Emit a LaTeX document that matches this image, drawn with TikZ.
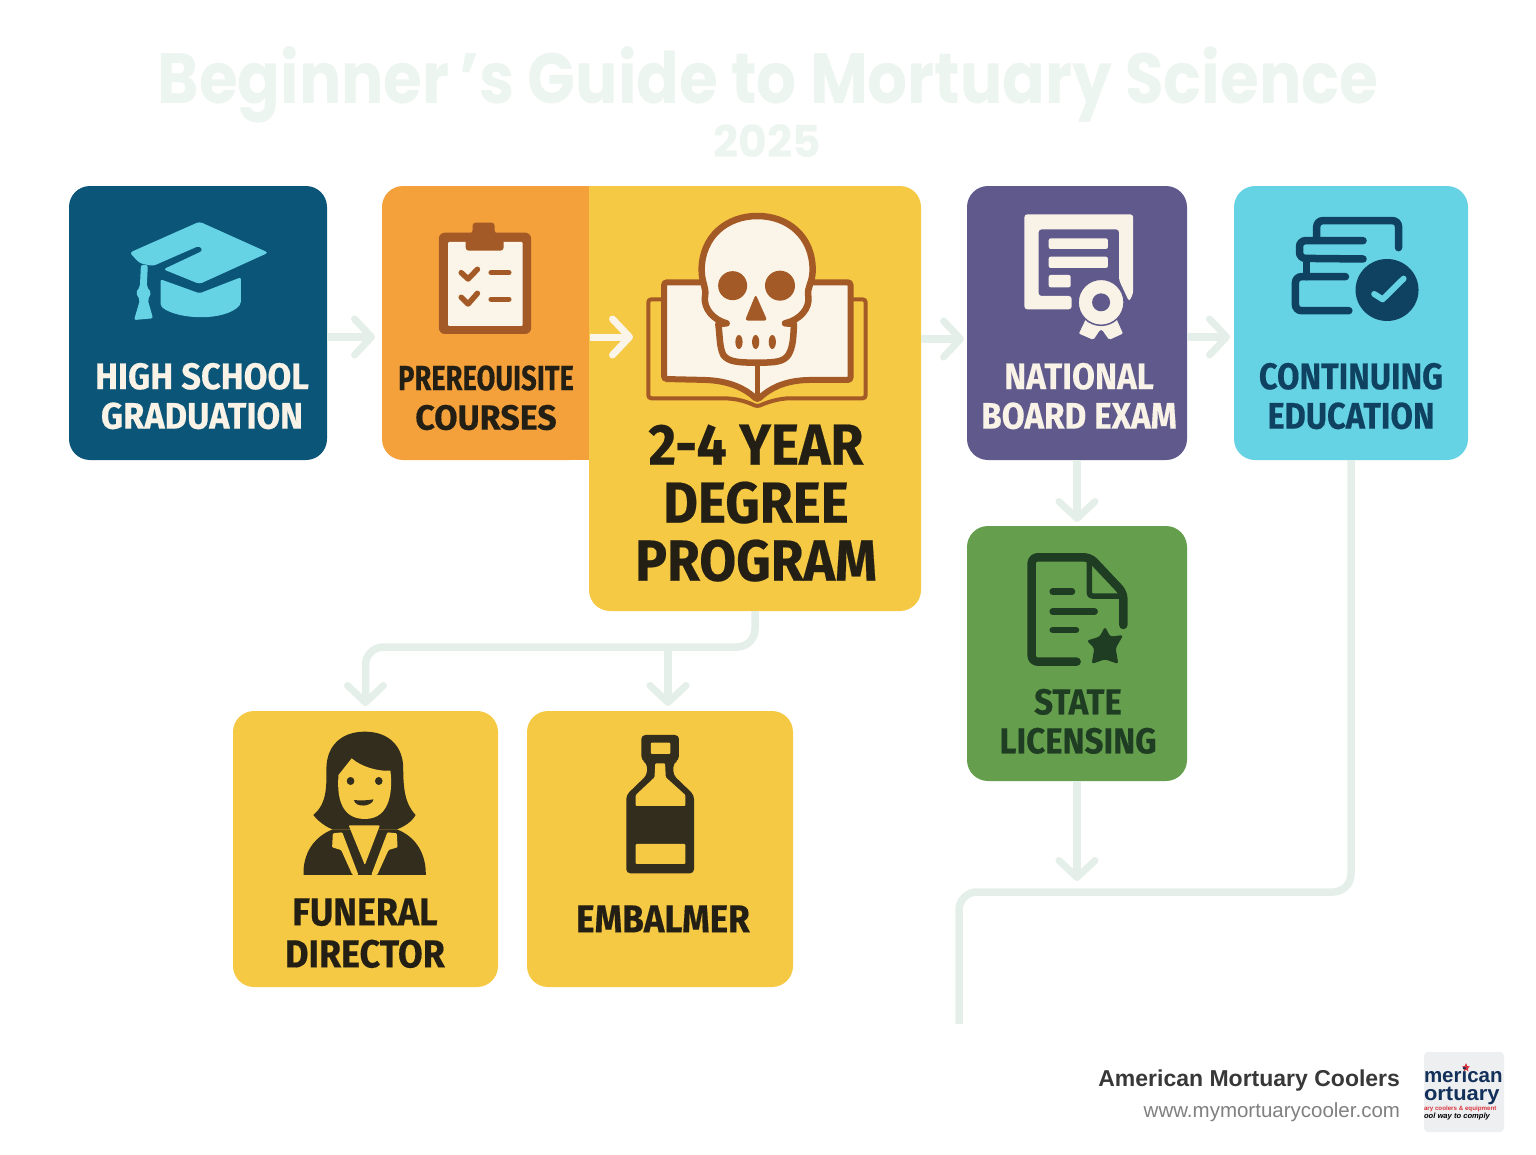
\documentclass[tikz,border=0pt]{standalone}
\usepackage{fontspec}
\usepackage{graphicx}
\usetikzlibrary{arrows.meta}
\setmainfont{Fira Sans}[BoldFeatures={FakeBold=0.35}]
\newfontfamily\titlefont{Poppins}
\newfontfamily\footfont{Liberation Sans}
\definecolor{navy}{HTML}{0B5578}
\definecolor{orangec}{HTML}{F4A13C}
\definecolor{yellowc}{HTML}{F5C944}
\definecolor{purplec}{HTML}{5F5A8B}
\definecolor{cyanc}{HTML}{66D3E4}
\definecolor{greenc}{HTML}{659F4E}
\definecolor{brownc}{HTML}{A45A26}
\definecolor{creamc}{HTML}{FBF4E8}
\definecolor{flowc}{HTML}{E5EFE9}
\definecolor{inkc}{HTML}{332D1E}
\definecolor{textink}{HTML}{241F14}
\definecolor{deepc}{HTML}{0F4160}
\definecolor{leafc}{HTML}{1F3D22}
\definecolor{paper}{HTML}{F8F3E6}
\definecolor{titlec}{HTML}{EDF5F0}
\definecolor{logobg}{HTML}{EEEFF0}
\definecolor{logonavy}{HTML}{12305A}
\definecolor{logored}{HTML}{D8343F}
\newcommand{\lbl}[4]{\scalebox{#1}[1]{\fontsize{#2}{#3}\selectfont\bfseries\begin{tabular}{@{}c@{}}#4\end{tabular}}}
\tikzset{
 card/.style={rectangle,rounded corners=21pt,inner sep=0pt,outer sep=0pt},
 txt/.style={inner sep=0pt,outer sep=0pt},
 flow/.style={draw=flowc,line width=7.5pt,rounded corners=18pt},
 flowtip/.style={flow,-{Straight Barb[length=17pt,width=36pt,line width=7pt,round]}},
 whitetip/.style={draw=creamc,line width=7pt,-{Straight Barb[length=17pt,width=36pt,line width=7pt,round]}},
 z1/.style={shift={(60,180)},x=0.3444pt,y=-0.3333pt},
 z2/.style={shift={(580,180)},x=0.3333pt,y=-0.3333pt},
 z3/.style={shift={(950,180)},x=0.338pt,y=-0.3333pt},
 z5/.style={shift={(220,620)},x=0.3762pt,y=-0.3333pt},
 z6/.style={shift={(950,520)},x=0.3333pt,y=-0.3333pt},
}
\begin{document}
\begin{tikzpicture}[x=1pt,y=-1pt]
\useasboundingbox (0,0) rectangle (1536,1154);
\fill[white] (0,0) rectangle (1536,1154);
% title
\node[txt,anchor=base,text=titlec,font=\titlefont\bfseries\fontsize{71}{71}\selectfont] (title) at (768,103) {\scalebox{.885}[1]{Beginner\,’s Guide to Mortuary Science}};
\node[txt,anchor=base,text=titlec,font=\titlefont\bfseries\fontsize{44}{44}\selectfont] (year) at (767,157) {2025};
% cards
\node[card,fill=navy,minimum width=258pt,minimum height=274pt] (hs) at (198,323) {};
\node[card,fill=orangec,minimum width=208pt,minimum height=274pt] (pre) at (486,323) {};
\fill[orangec] (560,186) rectangle (590,460);
\node[card,fill=purplec,minimum width=220pt,minimum height=274pt] (nat) at (1077,323) {};
\node[card,fill=cyanc,minimum width=234pt,minimum height=274pt] (cont) at (1351,323) {};
\node[card,fill=greenc,minimum width=220pt,minimum height=255pt] (state) at (1077,653.5) {};
\node[card,fill=yellowc,minimum width=265pt,minimum height=276pt] (fd) at (365.5,849) {};
\node[card,fill=yellowc,minimum width=266pt,minimum height=276pt] (emb) at (660,849) {};
\coordinate (rowa) at (0,337);
\coordinate (rowb) at (0,339);
\coordinate (pretip) at (633,337);
\coordinate (bus) at (668,647);
\coordinate (statetip) at (1077,881);
\coordinate (contend) at (959,1024);
% connectors
\draw[flowtip] (hs.east |- rowa) -- ([xshift=-7pt]pre.west |- rowa);
\draw[flowtip] (nat.east |- rowa) -- ([xshift=-4pt]cont.west |- rowa);
\draw[flowtip] (nat.south) -- ([yshift=4pt]state.north);
\draw[flowtip] (state.south) -- (statetip);
\draw[flow] (cont.south) -- ++(0,432) -| (contend);
% degree card
\node[card,fill=yellowc,minimum width=332pt,minimum height=425pt] (deg) at (755,398.5) {};
\fill[yellowc] (589,186) rectangle (620,220);
\draw[flowtip] (deg.east |- rowb) -- ([xshift=-3pt]nat.west |- rowb);
\draw[flowtip] (deg.south) -- ++(0,36) -| ([yshift=5pt]fd.north);
\draw[flowtip] (bus) -- ([yshift=5pt]bus |- emb.north);
\draw[whitetip] (pre.east |- rowa) -- (pretip);
% cap icon
\begin{scope}[z1]
\fill[cyanc,rounded corners=3pt] (405,125) -- (605,218) -- (405,312) -- (300,268) -- (415,212) -- (405,197) -- (270,258) -- (232,250) -- (202,218) -- cycle;
\fill[cyanc,rounded corners=2pt] (292,298) -- (405,340) -- (525,292) -- (525,372) .. controls (480,425) and (340,420) .. (292,378) -- cycle;
\fill[cyanc,rounded corners=2pt] (235,255) -- (255,255) -- (252,320) -- (265,338) -- (255,360) -- (270,415) -- (215,420) -- (232,360) -- (220,338) -- (232,320) -- cycle;
% clipboard
\fill[brownc,rounded corners=6pt] (1100,158) rectangle (1368,462);
\fill[creamc,rounded corners=1pt] (1127,186) rectangle (1343,438);
\fill[brownc,rounded corners=3pt] (1198,128) -- (1262,128) -- (1262,160) -- (1288,160) -- (1288,212) -- (1178,212) -- (1178,160) -- (1198,160) -- cycle;
\draw[brownc,line width=5.5pt,line cap=round,line join=round] (1165,278) -- (1185,297) -- (1212,268);
\draw[brownc,line width=5.5pt,line cap=round,line join=round] (1165,352) -- (1185,372) -- (1212,340);
\draw[brownc,line width=5.5pt,line cap=round] (1252,278) -- (1303,278);
\draw[brownc,line width=5.5pt,line cap=round] (1252,358) -- (1303,358);
\end{scope}
% book and skull icon
\begin{scope}[z2]
\draw[brownc,line width=4pt,rounded corners=3pt] (245,358) -- (205,358) -- (205,655) -- (420,655) .. controls (470,655) and (500,665) .. (532,680) .. controls (565,665) and (600,655) .. (640,655) -- (857,655) -- (857,358) -- (815,358);
\draw[brownc,fill=creamc,line width=6pt,rounded corners=3pt] (252,307) -- (812,307) -- (812,600) -- (680,600) .. controls (610,605) and (570,625) .. (532,660) .. controls (495,625) and (450,605) .. (380,600) -- (252,597) -- cycle;
\draw[brownc,line width=5pt] (532,545) -- (532,655);
\draw[brownc,fill=creamc,line width=6.5pt,line join=round] (365,270) .. controls (365,170) and (440,108) .. (532,108) .. controls (625,108) and (698,170) .. (698,270) .. controls (698,310) and (680,320) .. (685,350) .. controls (690,385) and (660,420) .. (615,430) -- (642,432) .. controls (640,470) and (640,500) .. (625,525) .. controls (610,545) and (590,548) .. (532,548) .. controls (470,548) and (445,545) .. (430,525) .. controls (418,500) and (420,470) .. (415,432) -- (440,430) .. controls (400,420) and (370,385) .. (375,350) .. controls (380,320) and (365,310) .. (365,270) -- cycle;
\fill[brownc] (458,317) ellipse [x radius=14.5pt,y radius=14.5pt];
\fill[brownc] (600,317) ellipse [x radius=15pt,y radius=15pt];
\fill[brownc,rounded corners=3pt] (527,343) -- (562,422) -- (495,422) -- cycle;
\foreach \tx in {477,527,577}{\fill[brownc] (\tx,486) ellipse [x radius=3.6pt,y radius=7pt];}
\end{scope}
% certificate icon
\begin{scope}[z3]
\fill[paper,rounded corners=3pt] (220,103) -- (542,103) -- (542,340) -- (530,365) -- (500,300) -- (500,148) -- (262,148) -- (262,348) -- (360,348) -- (360,388) -- (220,388) -- cycle;
\fill[paper,rounded corners=2pt] (292,175) rectangle (467,207);
\fill[paper,rounded corners=2pt] (292,230) rectangle (467,264);
\fill[paper,rounded corners=2pt] (292,285) rectangle (357,322);
\draw[purplec,fill=paper,line width=1.5pt,rounded corners=2pt] (405,405) -- (378,462) -- (425,483) -- (447,450) -- (470,483) -- (515,462) -- (490,405) -- cycle;
\draw[purplec,fill=paper,line width=1.5pt] (447,367) ellipse [x radius=23pt,y radius=23pt];
\fill[purplec] (447,367) ellipse [x radius=9pt,y radius=9pt];
% stack and badge icon
\begin{scope}[deepc,line width=7.5pt,rounded corners=6pt,line cap=round]
\draw[deepc] (1327,203) -- (1327,122) -- (1085,122) -- (1085,178);
\draw[deepc] (1222,182) -- (1034,182) -- (1034,235) -- (1222,237);
\draw[deepc] (1055,240) -- (1055,290);
\draw[deepc] (1170,290) -- (1022,290) -- (1022,392) -- (1180,392);
\end{scope}
\fill[deepc] (1293,330) ellipse [x radius=31.5pt,y radius=31pt];
\draw[cyanc,line width=6pt,line cap=round,line join=round] (1255,342) -- (1280,358) -- (1342,296);
\end{scope}
% person icon
\begin{scope}[z5]
\fill[inkc] (385,335) .. controls (320,335) and (285,380) .. (283,440) .. controls (283,500) and (285,550) .. (248,585) .. controls (265,610) and (290,625) .. (300,628) -- (470,628) .. controls (490,620) and (510,605) .. (520,585) .. controls (490,550) and (487,500) .. (487,440) .. controls (485,380) and (450,335) .. (385,335) -- cycle;
\fill[inkc] (222,765) .. controls (220,700) and (250,650) .. (300,628) -- (470,628) .. controls (520,650) and (548,700) .. (547,765) -- cycle;
\fill[yellowc] (350,415) .. controls (375,440) and (420,455) .. (453,452) .. controls (458,500) and (458,597) .. (385,597) .. controls (312,597) and (312,510) .. (315,465) -- cycle;
\fill[inkc] (347,483) ellipse [x radius=3.8pt,y radius=4pt];
\fill[inkc] (422,483) ellipse [x radius=3.8pt,y radius=4pt];
\fill[inkc] (356,540) .. controls (370,542) and (390,542) .. (408,538) .. controls (405,560) and (360,565) .. (356,540) -- cycle;
\fill[yellowc,rounded corners=1pt] (342,616) -- (425,616) -- (385,735) -- cycle;
\fill[yellowc,rounded corners=1pt] (300,640) -- (325,637) -- (368,765) -- (352,765) -- (322,690) -- (298,682) -- cycle;
\fill[yellowc,rounded corners=1pt] (470,640) -- (445,637) -- (402,765) -- (418,765) -- (448,690) -- (472,682) -- cycle;
% bottle icon
\fill[inkc,rounded corners=4pt] (1120,345) -- (1220,345) -- (1220,420) -- (1205,430) -- (1205,465) -- (1260,525) -- (1260,760) -- (1080,760) -- (1080,525) -- (1135,465) -- (1135,430) -- (1120,420) -- cycle;
\fill[yellowc,rounded corners=1pt] (1145,368) rectangle (1197,402);
\fill[yellowc,rounded corners=1pt] (1105,558) -- (1105,525) -- (1155,472) -- (1157,430) -- (1183,430) -- (1185,472) -- (1237,525) -- (1237,558) -- cycle;
\fill[yellowc,rounded corners=1pt] (1105,672) rectangle (1237,732);
\end{scope}
% document icon
\begin{scope}[z6,line cap=round,line join=round]
\draw[leafc,line width=8.5pt,rounded corners=6pt] (380,425) -- (245,425) -- (245,112) -- (420,112) -- (520,218) -- (520,315);
\draw[leafc,line width=5.5pt,rounded corners=3pt] (418,115) -- (418,228) -- (518,228);
\draw[leafc,line width=6.5pt] (308,215) -- (366,215);
\draw[leafc,line width=6.5pt] (308,275) -- (434,275);
\draw[leafc,line width=6.5pt] (308,330) -- (378,330);
\fill[leafc,rounded corners=2.5pt] (465,320) -- (481,350) -- (520,345) -- (497,385) -- (505,432) -- (465,418) -- (425,432) -- (433,385) -- (410,362) -- (449,350) -- cycle;
\end{scope}
% labels
\node[txt,text=paper] (hst) at (202,401) {\lbl{.93}{37}{39.5}{HIGH SCHOOL\\GRADUATION}};
\node[txt,text=textink] (pret) at (486,402) {\lbl{1}{35}{39.5}{\scalebox{.78}[1]{PREREOUISITE}\\\scalebox{.97}[1]{COURSES}}};
\node[txt,text=textink] (degt) at (756,511) {\lbl{.92}{58}{56}{2-4 YEAR\\DEGREE\\PROGRAM}};
\node[txt,text=paper] (natt) at (1079,401) {\lbl{.9}{37}{39.5}{NATIONAL\\BOARD EXAM}};
\node[txt,text=deepc] (contt) at (1351,401) {\lbl{.88}{37}{39.5}{CONTINUING\\EDUCATION}};
\node[txt,text=leafc] (statet) at (1078,726) {\lbl{.92}{36}{39}{STATE\\LICENSING}};
\node[txt,text=textink] (fdt) at (365,938) {\lbl{.92}{39}{42}{FUNERAL\\DIRECTOR}};
\node[txt,text=textink] (embt) at (663,924) {\lbl{.9}{39}{42}{EMBALMER}};
% footer
\node[txt,anchor=base east,text=black!78,font=\footfont\bfseries\fontsize{23}{23}\selectfont] (brand) at (1400,1086) {American Mortuary Coolers};
\node[txt,anchor=base east,text=black!50,font=\footfont\fontsize{20.5}{20.5}\selectfont] (site) at (1400,1117) {www.mymortuarycooler.com};
\node[rectangle,rounded corners=4pt,fill=logobg,minimum width=80pt,minimum height=80pt,inner sep=0pt] (logo) at (1464,1092) {};
\fill[logored] (1466,1063) -- (1467.3,1066) -- (1470,1066.6) -- (1467.8,1068.4) -- (1468.4,1071.4) -- (1466,1069.8) -- (1463.6,1071.4) -- (1464.2,1068.4) -- (1462,1066.6) -- (1464.7,1066) -- cycle;
\node[txt,anchor=base west,text=logonavy,font=\footfont\bfseries\fontsize{20.5}{20.5}\selectfont] (logoa) at (1424,1082.5) {merican};
\node[txt,anchor=base west,text=logonavy,font=\footfont\bfseries\fontsize{20.5}{20.5}\selectfont] (logob) at (1424,1100) {\scalebox{1.07}[1]{ortuary}};
\node[txt,anchor=base west,text=logored,font=\footfont\bfseries\fontsize{6.2}{6.2}\selectfont] (logoc) at (1424,1110) {ary coolers \& equipment};
\node[txt,anchor=base west,text=black,font=\footfont\bfseries\itshape\fontsize{7.6}{7.6}\selectfont] (logod) at (1424,1118) {ool way to comply};
\end{tikzpicture}
\end{document}
